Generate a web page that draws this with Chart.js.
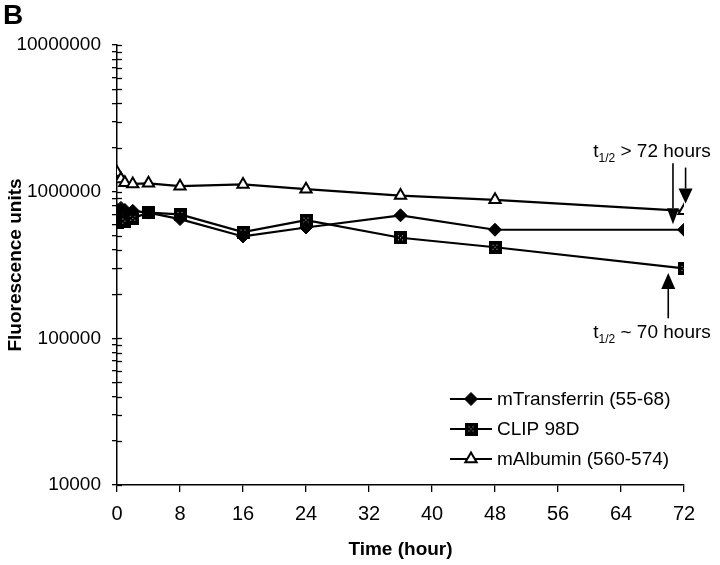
<!DOCTYPE html>
<html>
<head>
<meta charset="utf-8">
<script src="https://cdn.jsdelivr.net/npm/chart.js@4.4.1/dist/chart.umd.min.js"></script>
<style>
  html, body { margin: 0; padding: 0; background: #fff; }
  #wrap { position: relative; width: 720px; height: 565px; }
</style>
</head>
<body>
<div id="wrap"><canvas id="timeChart" width="720" height="565"></canvas></div>
<script>
// values (time in hours, fluorescence units)
const hours = [0, 0.5, 1, 2, 4, 8, 16, 24, 36, 48, 72];
const transferrin = [750000, 775000, 750000, 740000, 720000, 650000, 495000, 570000, 690000, 550000, 550000];
const clip98d = [615000, 680000, 630000, 660000, 720000, 700000, 530000, 640000, 485000, 418000, 300000];
const albumin = [1350000, 1220000, 1150000, 1130000, 1140000, 1090000, 1120000, 1040000, 940000, 880000, 740000];
const seriesNames = ['mTransferrin (55-68)', 'CLIP 98D', 'mAlbumin (560-574)'];
const xTicks = [0, 8, 16, 24, 32, 40, 48, 56, 64, 72];
const yTicks = [
    10000, 20000, 30000, 40000, 50000, 60000, 70000, 80000, 90000,
    100000, 200000, 300000, 400000, 500000, 600000, 700000, 800000, 900000,
    1000000, 2000000, 3000000, 4000000, 5000000, 6000000, 7000000, 8000000, 9000000,
    10000000
];

const FONT = 'Arial, "Liberation Sans", sans-serif';
const NARROW = '"Liberation Sans Narrow", "Arial Narrow", Arial, sans-serif';

// square marker with the little speckles in the middle
function speckleSquare() {
    const c = document.createElement('canvas');
    c.width = 13; c.height = 13;
    const g = c.getContext('2d');
    g.fillStyle = '#000';
    g.fillRect(0, 0, 13, 13);
    g.fillStyle = '#bbb';
    [[4, 4], [8, 4], [6, 6], [4, 8], [8, 8]].forEach(p => g.fillRect(p[0], p[1], 1, 1));
    return c;
}
const squareImg = speckleSquare();

// arrows + t1/2 notes, anchored on data coords
const notes = [
    { x: 70.6, y: 1560000, tip: 600000, head: 16, w: 12 },
    { x: 72.2, y: 1460000, tip: 830000, head: 15, w: 14 },
    { x: 70.0, y: 137000, tip: 279000, head: 16, w: 14 }
];

function drawHalfLife(ctx, text, cx, y) {
    const subFont = '12px ' + FONT;
    ctx.font = subFont;
    const wSub = ctx.measureText('1/2').width;
    ctx.font = '19px ' + FONT;
    const wT = ctx.measureText('t').width;
    const wRest = ctx.measureText(text).width;
    let x = cx - (wT + wSub + wRest) / 2;
    ctx.textAlign = 'left';
    ctx.textBaseline = 'alphabetic';
    ctx.fillText('t', x, y);
    x += wT;
    ctx.font = subFont;
    ctx.fillText('1/2', x, y + 5);
    x += wSub;
    ctx.font = '19px ' + FONT;
    ctx.fillText(text, x, y);
}

const extras = {
    id: 'extras',
    afterDraw(chart) {
        const ctx = chart.ctx;
        const xs = chart.scales.x, ys = chart.scales.y;
        const area = chart.chartArea;
        ctx.save();
        ctx.strokeStyle = '#000';
        ctx.fillStyle = '#000';

        // inner halves of the y ticks
        ctx.lineWidth = 1.3;
        ys.ticks.forEach(t => {
            const py = Math.round(ys.getPixelForValue(t.value)) + 0.5;
            ctx.beginPath();
            ctx.moveTo(area.left, py);
            ctx.lineTo(area.left + 5, py);
            ctx.stroke();
        });

        // arrows
        notes.forEach(n => {
            const px = xs.getPixelForValue(n.x);
            const y0 = ys.getPixelForValue(n.y);
            const yt = ys.getPixelForValue(n.tip);
            const dir = yt > y0 ? 1 : -1;
            ctx.lineWidth = 1.6;
            ctx.beginPath();
            ctx.moveTo(px, y0);
            ctx.lineTo(px, yt - dir * n.head);
            ctx.stroke();
            ctx.beginPath();
            ctx.moveTo(px, yt);
            ctx.lineTo(px - n.w / 2, yt - dir * n.head);
            ctx.lineTo(px + n.w / 2, yt - dir * n.head);
            ctx.closePath();
            ctx.fill();
        });

        drawHalfLife(ctx, ' > 72 hours', 652, 157);
        drawHalfLife(ctx, ' ~ 70 hours', 652, 338);

        // legend in the lower right of the plot
        const lx = area.right - 234, ly = area.bottom - 86;
        chart.data.datasets.forEach((ds, i) => {
            const y = ly + i * 30;
            ctx.lineWidth = 2;
            ctx.strokeStyle = '#000';
            ctx.beginPath();
            ctx.moveTo(lx, y);
            ctx.lineTo(lx + 42, y);
            ctx.stroke();
            ctx.fillStyle = ds.pointBackgroundColor;
            ctx.strokeStyle = '#000';
            ctx.lineWidth = ds.pointBorderWidth;
            Chart.helpers.drawPoint(ctx, {
                pointStyle: ds.pointStyle,
                radius: ds.pointRadius,
                rotation: 0,
                borderWidth: ds.pointBorderWidth
            }, lx + 21, y);
            ctx.fillStyle = '#000';
            ctx.font = '19px ' + FONT;
            ctx.textAlign = 'left';
            ctx.textBaseline = 'middle';
            ctx.fillText(ds.label, lx + 47, y + 1);
        });

        // panel letter
        ctx.font = 'bold 28px ' + FONT;
        ctx.textAlign = 'left';
        ctx.textBaseline = 'top';
        ctx.fillText('B', 3, 2);
        ctx.restore();
    }
};

const ctx = document.getElementById('timeChart').getContext('2d');
const timeChart = new Chart(ctx, {
    type: 'line',
    data: {
        datasets: [{
            label: seriesNames[0],
            data: hours.map((h, i) => ({ x: h, y: transferrin[i] })),
            borderColor: '#000',
            borderWidth: 2.2,
            pointStyle: 'rectRot',
            pointRadius: 6.5,
            pointBackgroundColor: '#000',
            pointBorderColor: '#000',
            pointBorderWidth: 1
        }, {
            label: seriesNames[1],
            data: hours.map((h, i) => ({ x: h, y: clip98d[i] })),
            borderColor: '#000',
            borderWidth: 2.2,
            pointStyle: squareImg,
            pointRadius: 6.5,
            pointBackgroundColor: '#000',
            pointBorderColor: '#000',
            pointBorderWidth: 1
        }, {
            label: seriesNames[2],
            data: hours.map((h, i) => ({ x: h, y: albumin[i] })),
            borderColor: '#000',
            borderWidth: 2.2,
            pointStyle: 'triangle',
            pointRadius: 6.5,
            pointBackgroundColor: '#fff',
            pointBorderColor: '#000',
            pointBorderWidth: 2
        }]
    },
    options: {
        responsive: false,
        animation: false,
        layout: { padding: { top: 45, right: 36, left: 0, bottom: 0 } },
        elements: { line: { tension: 0 } },
        plugins: {
            legend: { display: false },
            tooltip: { enabled: false }
        },
        scales: {
            x: {
                type: 'linear',
                min: 0,
                max: 72,
                afterBuildTicks: s => { s.ticks = xTicks.map(v => ({ value: v })); },
                afterFit: s => { s.height = 80; },
                grid: { drawOnChartArea: false, drawTicks: true, tickLength: 7, color: '#000', lineWidth: 1.3 },
                border: { display: true, color: '#000', width: 1.5 },
                ticks: { autoSkip: false, maxRotation: 0, color: '#000', padding: 10, font: { family: NARROW, size: 20 } },
                title: { display: true, text: 'Time (hour)', color: '#000', padding: { top: 0, bottom: 4 }, font: { family: FONT, size: 19, weight: 'bold' } }
            },
            y: {
                type: 'logarithmic',
                min: 10000,
                max: 10000000,
                afterBuildTicks: s => { s.ticks = yTicks.map(v => ({ value: v })); },
                afterFit: s => { s.width = 117; },
                grid: { drawOnChartArea: false, drawTicks: true, tickLength: 5, color: '#000', lineWidth: 1.3 },
                border: { display: true, color: '#000', width: 1.5 },
                ticks: {
                    autoSkip: false,
                    color: '#000',
                    padding: 11,
                    font: { family: FONT, size: 19 },
                    callback: v => Number.isInteger(Math.log10(v)) ? String(v) : ''
                },
                title: { display: true, text: 'Fluorescence units', color: '#000', padding: { top: 4, bottom: 0 }, font: { family: FONT, size: 19, weight: 'bold' } }
            }
        }
    },
    plugins: [extras]
});
</script>
</body>
</html>
